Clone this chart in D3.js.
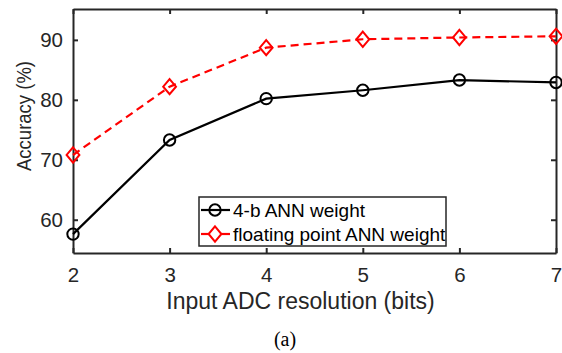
<!DOCTYPE html>
<html>
<head>
<meta charset="utf-8">
<script src="https://cdn.jsdelivr.net/npm/d3@7"></script>
<style>
  body { margin: 0; background: #fff; }
  svg text { font-family: "Liberation Sans", Arial, sans-serif; fill: #262626; }
</style>
</head>
<body>
<div id="chart"></div>
<script>
// data
const bits = [2, 3, 4, 5, 6, 7];
const acc4b = [57.6, 73.3, 80.2, 81.6, 83.3, 82.9];
const accFloat = [70.8, 82.2, 88.7, 90.1, 90.4, 90.6];
const yTicks = [60, 70, 80, 90];
const seriesNames = ["4-b ANN weight", "floating point ANN weight"];

const width = 562, height = 353;
const margin = { top: 9, right: 6, bottom: 100, left: 73 };
const plotW = width - margin.left - margin.right;
const plotH = height - margin.top - margin.bottom;

const svg = d3.select("#chart").append("svg")
    .attr("width", width)
    .attr("height", height);

const g = svg.append("g")
    .attr("transform", `translate(${margin.left}, ${margin.top})`);

const x = d3.scaleLinear().domain([2, 7]).range([0, plotW]);
const y = d3.scaleLinear().domain([54.45, 95.15]).range([plotH, 0]);

const axisColor = "#262626";

// axes, ticks inward, box around plot
function styleAxis(sel) {
    sel.select(".domain").attr("stroke", axisColor).attr("stroke-width", 2);
    sel.selectAll(".tick line").attr("stroke", axisColor).attr("stroke-width", 2);
    sel.selectAll("text")
        .style("font-size", "20.5px")
        .style("fill", axisColor);
}

g.append("g")
    .attr("transform", `translate(0, ${plotH})`)
    .call(d3.axisBottom(x).tickValues(bits).tickFormat(d3.format("d")).tickSizeInner(-5).tickSizeOuter(0).tickPadding(14))
    .call(styleAxis);

g.append("g")
    .call(d3.axisTop(x).tickValues(bits).tickFormat("").tickSizeInner(-5).tickSizeOuter(0))
    .call(styleAxis);

g.append("g")
    .call(d3.axisLeft(y).tickValues(yTicks).tickSizeInner(-5).tickSizeOuter(0).tickPadding(10))
    .call(styleAxis);

g.append("g")
    .attr("transform", `translate(${plotW}, 0)`)
    .call(d3.axisRight(y).tickValues(yTicks).tickFormat("").tickSizeInner(-5).tickSizeOuter(0))
    .call(styleAxis);

// lines
const line = d3.line().x((d, i) => x(bits[i])).y(d => y(d));

g.append("path")
    .datum(accFloat)
    .attr("fill", "none")
    .attr("stroke", "#ff0000")
    .attr("stroke-width", 2.2)
    .attr("stroke-dasharray", "8,5")
    .attr("d", line);

g.append("path")
    .datum(acc4b)
    .attr("fill", "none")
    .attr("stroke", "#000")
    .attr("stroke-width", 2.2)
    .attr("d", line);

const diamond = (cx, cy) => `M${cx},${cy - 7.6}L${cx + 6.4},${cy}L${cx},${cy + 7.6}L${cx - 6.4},${cy}Z`;

g.selectAll(".pt-float")
    .data(accFloat)
    .enter().append("path")
    .attr("class", "pt-float")
    .attr("d", (d, i) => diamond(x(bits[i]), y(d)))
    .attr("fill", "none")
    .attr("stroke", "#ff0000")
    .attr("stroke-width", 2);

g.selectAll(".pt-4b")
    .data(acc4b)
    .enter().append("circle")
    .attr("class", "pt-4b")
    .attr("cx", (d, i) => x(bits[i]))
    .attr("cy", d => y(d))
    .attr("r", 5.7)
    .attr("fill", "none")
    .attr("stroke", "#000")
    .attr("stroke-width", 2);

// legend
const legend = svg.append("g").attr("transform", "translate(199, 197)");
legend.append("rect")
    .attr("width", 247)
    .attr("height", 49)
    .attr("fill", "#fff")
    .attr("stroke", axisColor)
    .attr("stroke-width", 1.5);

const legendRows = [
    { name: seriesNames[0], color: "#000", marker: "circle", yy: 13 },
    { name: seriesNames[1], color: "#ff0000", marker: "diamond", yy: 37 }
];
legendRows.forEach(r => {
    legend.append("line")
        .attr("x1", 2).attr("x2", 31)
        .attr("y1", r.yy).attr("y2", r.yy)
        .attr("stroke", r.color).attr("stroke-width", 2.2);
    if (r.marker === "circle") {
        legend.append("circle").attr("cx", 16).attr("cy", r.yy).attr("r", 5.7)
            .attr("fill", "none").attr("stroke", r.color).attr("stroke-width", 2);
    } else {
        legend.append("path").attr("d", diamond(16, r.yy))
            .attr("fill", "#fff").attr("stroke", r.color).attr("stroke-width", 2);
    }
    legend.append("text")
        .attr("x", 34).attr("y", r.yy + 6.5)
        .style("font-size", "19px")
        .style("fill", "#000")
        .text(r.name);
});

// axis labels
svg.append("text")
    .attr("x", 300.5)
    .attr("y", 309)
    .attr("text-anchor", "middle")
    .style("font-size", "23px")
    .text("Input ADC resolution (bits)");

svg.append("text")
    .attr("transform", "rotate(-90)")
    .attr("x", -116)
    .attr("y", 31)
    .attr("text-anchor", "middle")
    .style("font-size", "21px")
    .attr("textLength", 110)
    .attr("lengthAdjust", "spacingAndGlyphs")
    .text("Accuracy (%)");

svg.append("text")
    .attr("x", 285)
    .attr("y", 346)
    .attr("text-anchor", "middle")
    .style("font-size", "20px")
    .style("font-family", "Liberation Serif, Times New Roman, serif")
    .style("fill", "#000")
    .text("(a)");
</script>
</body>
</html>
